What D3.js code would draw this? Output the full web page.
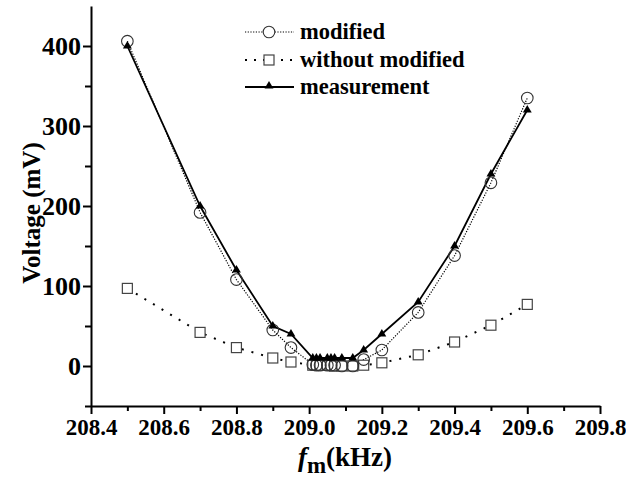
<!DOCTYPE html>
<html><head><meta charset="utf-8">
<script src="https://cdn.jsdelivr.net/npm/d3@7"></script>
<style>body{margin:0;background:#fff}svg{display:block}text{font-family:"Liberation Serif","Times New Roman",serif;font-weight:bold}</style>
</head><body>
<script>
const freqs = [208.5,208.7,208.8,208.9,208.95,209.01,209.02,209.03,209.05,209.06,209.07,209.09,209.12,209.15,209.2,209.3,209.4,209.5,209.6];
const modified = [406,192,108,45,23,2,1,1,1,1,1,0,0,8,20,67,138,229,335];
const withoutModified = [97,42,23,10,5,1,1,1,1,1,0,0,0,1,4,14,30,51,77];
const measurement = [400,200,120,50,40,10,10,10,10,10,10,10,10,20,40,80,150,240,320];
const xTicks = [208.4,208.6,208.8,209.0,209.2,209.4,209.6,209.8];
const yTicks = [0,100,200,300,400];
const seriesNames = ["modified","without modified","measurement"];

const W=626,H=480;
const svg=d3.select("body").append("svg").attr("width",W).attr("height",H);
const x=d3.scaleLinear().domain([208.4,209.8]).range([91,600]);
const y=d3.scaleLinear().domain([-50,450]).range([406,6]);

// axes
const xMinor=d3.range(208.5,209.8,0.2);
const yMinor=[-50,50,150,250,350];
const gx=svg.append("g").attr("transform","translate(0,406)");
gx.call(d3.axisBottom(x).tickValues(xTicks).tickFormat(d3.format(".1f")).tickSize(8).tickSizeOuter(0).tickPadding(5));
const gxm=svg.append("g").attr("transform","translate(0,406)");
gxm.call(d3.axisBottom(x).tickValues(xMinor).tickFormat("").tickSize(5).tickSizeOuter(0));
gxm.select(".domain").remove();
const gy=svg.append("g").attr("transform","translate(91,0)");
gy.call(d3.axisLeft(y).tickValues(yTicks).tickFormat(d3.format("d")).tickSize(8).tickSizeOuter(0).tickPadding(2));
const gym=svg.append("g").attr("transform","translate(91,0)");
gym.call(d3.axisLeft(y).tickValues(yMinor).tickFormat("").tickSize(6).tickSizeOuter(0));
gym.select(".domain").remove();
svg.selectAll(".domain,.tick line").attr("stroke","#000").attr("stroke-width",2);
svg.selectAll(".tick text").attr("font-family","Liberation Serif").attr("font-weight","bold").attr("fill","#000");
gx.selectAll(".tick text").attr("font-size",23);
gy.selectAll(".tick text").attr("font-size",26);

// axis titles
svg.append("text").attr("transform","translate(40,213) rotate(-90)").attr("text-anchor","middle").attr("font-size",25).text("Voltage (mV)");
const xt=svg.append("text").attr("x",345).attr("y",466).attr("text-anchor","middle").attr("font-size",27);
xt.append("tspan").attr("font-style","italic").text("f");
xt.append("tspan").attr("dy",7).attr("font-size",23).text("m");
xt.append("tspan").attr("dy",-7).text("(kHz)");

const pts=v=>freqs.map((f,i)=>[f,v[i]]);
const line=d3.line().x(d=>x(d[0])).y(d=>y(d[1]));

// lines
svg.append("path").attr("d",line(pts(withoutModified))).attr("fill","none").attr("stroke","#000").attr("stroke-width",2).attr("stroke-dasharray","2,8");
svg.append("path").attr("d",line(pts(modified))).attr("fill","none").attr("stroke","#000").attr("stroke-width",1.2).attr("stroke-dasharray","1.2,1.5");
svg.append("path").attr("d",line(pts(measurement))).attr("fill","none").attr("stroke","#000").attr("stroke-width",1.8);

// markers
const tri=d3.symbol().type(d3.symbolTriangle).size(34);
svg.append("g").selectAll("rect").data(pts(withoutModified)).join("rect")
  .attr("x",d=>x(d[0])-5).attr("y",d=>y(d[1])-5).attr("width",10).attr("height",10)
  .attr("fill","#fff").attr("stroke","#444").attr("stroke-width",1.2);
svg.append("g").selectAll("circle").data(pts(modified)).join("circle")
  .attr("cx",d=>x(d[0])).attr("cy",d=>y(d[1])).attr("r",5.8)
  .attr("fill","none").attr("stroke","#333").attr("stroke-width",1.1);
svg.append("g").selectAll("path").data(pts(measurement)).join("path")
  .attr("transform",d=>`translate(${x(d[0])},${y(d[1])})`).attr("d",tri).attr("fill","#000");

// legend
const lg=svg.append("g");
const rows=[32,60,87];
lg.append("line").attr("x1",245).attr("x2",294).attr("y1",rows[0]).attr("y2",rows[0]).attr("stroke","#000").attr("stroke-width",1.2).attr("stroke-dasharray","1.2,1.5");
lg.append("circle").attr("cx",269).attr("cy",rows[0]).attr("r",5.8).attr("fill","#fff").attr("stroke","#333").attr("stroke-width",1.1);
lg.append("line").attr("x1",245).attr("x2",294).attr("y1",rows[1]).attr("y2",rows[1]).attr("stroke","#000").attr("stroke-width",2).attr("stroke-dasharray","2,7");
lg.append("rect").attr("x",264).attr("y",rows[1]-5).attr("width",10).attr("height",10).attr("fill","#fff").attr("stroke","#444").attr("stroke-width",1.2);
lg.append("line").attr("x1",245).attr("x2",294).attr("y1",rows[2]).attr("y2",rows[2]).attr("stroke","#000").attr("stroke-width",1.8);
lg.append("path").attr("transform",`translate(269,${rows[2]-1})`).attr("d",tri).attr("fill","#000");
lg.selectAll("text").data(seriesNames).join("text").attr("x",300).attr("y",(d,i)=>rows[i]+7).attr("font-size",22.5).text(d=>d);
</script>
</body></html>
